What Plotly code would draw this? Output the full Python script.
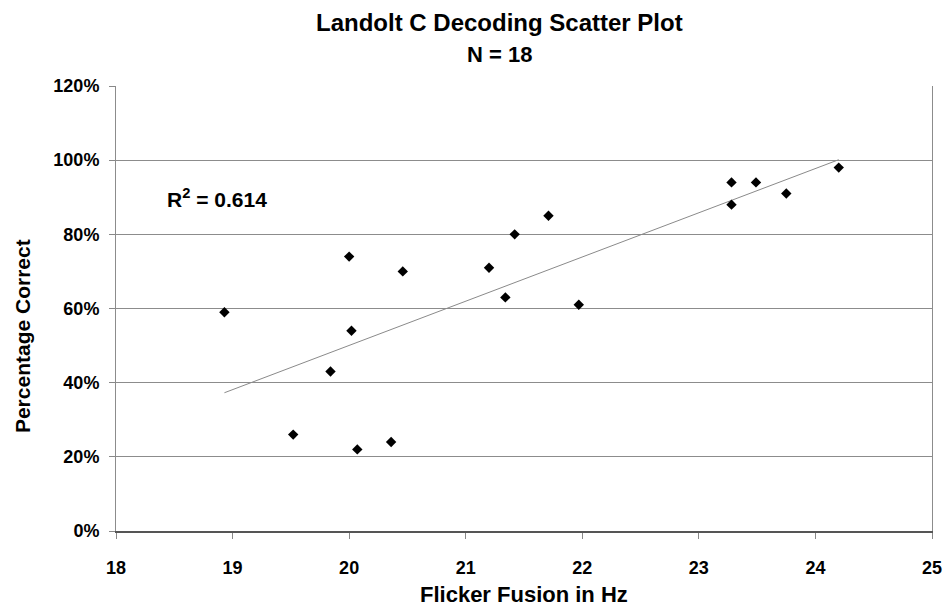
import numpy as np
import plotly.graph_objects as go

# Data
flicker_hz = [18.93, 20.00, 20.46, 21.20, 21.34, 21.42, 21.71, 21.97, 23.28, 23.49,
              23.28, 23.75, 24.20, 20.02, 19.84, 19.52, 20.07, 20.36]
pct_correct = [0.59, 0.74, 0.70, 0.71, 0.63, 0.80, 0.85, 0.61, 0.94, 0.94,
               0.88, 0.91, 0.98, 0.54, 0.43, 0.26, 0.22, 0.24]
r2_label = "R<sup>2</sup> = 0.614"
title_text = "Landolt C Decoding Scatter Plot"
subtitle_text = "N = 18"
x_title = "Flicker Fusion in Hz"
y_title = "Percentage Correct"

x = np.array(flicker_hz)
y = np.array(pct_correct)
slope, intercept = np.polyfit(x, y, 1)
xt = np.array([x.min(), x.max()])
yt = slope * xt + intercept

font = "Liberation Sans, Arial, sans-serif"
bold = lambda s: dict(family=font, size=s, color="black", weight="bold")

fig = go.Figure()
fig.add_trace(go.Scatter(x=xt, y=yt, mode="lines",
                         line=dict(color="#8a8a8a", width=1), hoverinfo="skip"))
fig.add_trace(go.Scatter(x=flicker_hz, y=pct_correct, mode="markers",
                         marker=dict(symbol="diamond", size=8, color="black")))

fig.add_annotation(x=18.42, y=0.898, xref="x", yref="y", text="<b>" + r2_label + "</b>",
                   showarrow=False, xanchor="left", yanchor="middle", font=bold(21))

fig.add_annotation(x=0.47, y=1.1438, xref="paper", yref="paper", text="<b>" + title_text + "</b>",
                   showarrow=False, xanchor="center", yanchor="middle", font=bold(24))
fig.add_annotation(x=0.47, y=1.0697, xref="paper", yref="paper", text="<b>" + subtitle_text + "</b>",
                   showarrow=False, xanchor="center", yanchor="middle", font=bold(22))
fig.add_annotation(x=0.5, y=-0.1438, xref="paper", yref="paper", text="<b>" + x_title + "</b>",
                   showarrow=False, xanchor="center", yanchor="middle", font=bold(22))
fig.add_annotation(x=-0.1152, y=0.438, xref="paper", yref="paper", text="<b>" + y_title + "</b>",
                   showarrow=False, xanchor="center", yanchor="middle", textangle=-90, font=bold(21))

fig.update_layout(
    width=944, height=609,
    margin=dict(l=116, r=12, t=86, b=78, autoexpand=False),
    paper_bgcolor="white", plot_bgcolor="white",
    showlegend=False,
    xaxis=dict(range=[18, 25], dtick=1, tick0=18, automargin=False,
               showgrid=False, zeroline=False,
               showline=True, linecolor="#555555", linewidth=1.5,
               ticks="outside", ticklen=6, tickcolor="#888888",
               ticklabelstandoff=14,
               tickfont=bold(18)),
    yaxis=dict(range=[0, 1.2], dtick=0.2, tick0=0, tickformat=".0%", automargin=False,
               showgrid=True, gridcolor="#8c8c8c", gridwidth=1, zeroline=False,
               showline=True, linecolor="#8c8c8c", linewidth=1, mirror=True,
               ticks="outside", ticklen=6, tickcolor="#888888",
               ticklabelstandoff=6,
               tickfont=bold(18)),
)

fig.write_html("out.html", config={"displayModeBar": False},
               post_script="document.body.style.margin='0px';document.body.style.overflow='hidden';")
